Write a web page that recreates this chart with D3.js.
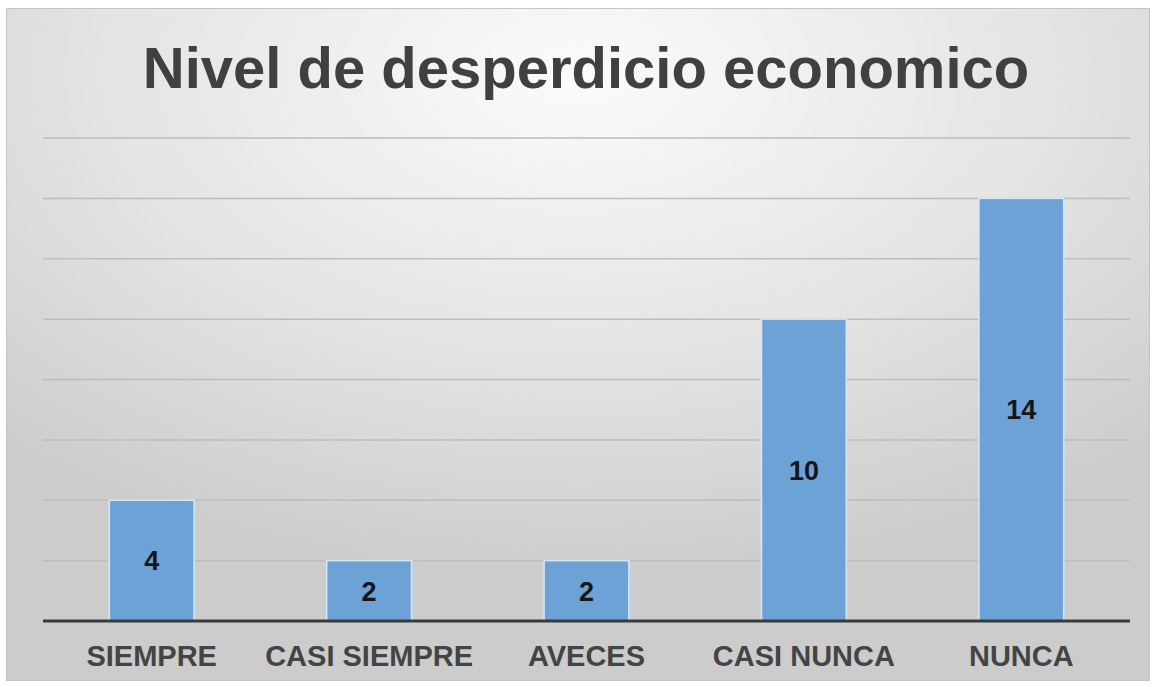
<!DOCTYPE html>
<meta charset="utf-8">
<html>
<head>
<script src="https://d3js.org/d3.v7.min.js" charset="utf-8"></script>
<style>
body { margin: 0; background: #fff; }
svg { display: block; font-family: "Liberation Sans", Arial, sans-serif; }
</style>
</head>
<body>
<svg width="1154" height="687"></svg>
<script type="text/javascript">
// chart data
var categories = ["SIEMPRE", "CASI SIEMPRE", "AVECES", "CASI NUNCA", "NUNCA"];
var values = [4, 2, 2, 10, 14];
var gridTicks = [0, 2, 4, 6, 8, 10, 12, 14, 16];
var title = "Nivel de desperdicio economico";

var svg = d3.select("svg");

// background with soft radial shading
var defs = svg.append("defs");
var grad = defs.append("radialGradient")
    .attr("id", "bg")
    .attr("cx", "50%").attr("cy", "10%").attr("r", "75%");
grad.append("stop").attr("offset", "0%").attr("stop-color", "#fbfbfb");
grad.append("stop").attr("offset", "55%").attr("stop-color", "#e4e4e4");
grad.append("stop").attr("offset", "100%").attr("stop-color", "#cccccc");

svg.append("rect")
    .attr("x", 6.5).attr("y", 8.5)
    .attr("width", 1143).attr("height", 672)
    .attr("fill", "url(#bg)")
    .attr("stroke", "#c4c4c4")
    .attr("stroke-width", 1);

var margin = {left: 43, right: 24, top: 138, bottom: 66},
    width = 1154 - margin.left - margin.right,
    height = 687 - margin.top - margin.bottom;

var g = svg.append("g").attr("transform", "translate(" + margin.left + "," + margin.top + ")");

var x = d3.scaleBand()
    .domain(categories)
    .range([0, width])
    .padding(0);

var y = d3.scaleLinear()
    .domain([0, 16])
    .range([483, 0]);

// gridlines
g.selectAll(".grid")
  .data(gridTicks.filter(function(d) { return d > 0; }))
  .enter().append("line")
    .attr("class", "grid")
    .attr("x1", 0).attr("x2", width)
    .attr("y1", function(d) { return y(d); })
    .attr("y2", function(d) { return y(d); })
    .attr("stroke", "#bdbdbd")
    .attr("stroke-width", 1.5);

var barW = x.bandwidth() * 0.39;

var bar = g.selectAll(".bar")
  .data(values)
  .enter().append("g")
    .attr("class", "bar");

bar.append("rect")
    .attr("x", function(d, i) { return x(categories[i]) + (x.bandwidth() - barW) / 2; })
    .attr("y", function(d) { return y(d); })
    .attr("width", barW)
    .attr("height", function(d) { return y(0) - y(d); })
    .attr("fill", "#6ca2d6")
    .attr("stroke", "#d6e8f8")
    .attr("stroke-width", 1.5);

bar.append("text")
    .attr("x", function(d, i) { return x(categories[i]) + x.bandwidth() / 2; })
    .attr("y", function(d) { return (y(d) + y(0)) / 2; })
    .attr("dy", "0.36em")
    .attr("text-anchor", "middle")
    .attr("font-size", "27px")
    .attr("font-weight", "bold")
    .attr("fill", "#161616")
    .text(function(d) { return d; });

// baseline
g.append("line")
    .attr("x1", 0).attr("x2", width)
    .attr("y1", y(0)).attr("y2", y(0))
    .attr("stroke", "#3a3a3a")
    .attr("stroke-width", 3);

// category labels
var xAxis = g.append("g")
    .attr("transform", "translate(0," + y(0) + ")")
    .call(d3.axisBottom(x).tickSize(0).tickPadding(24));
xAxis.select(".domain").remove();
xAxis.selectAll("text")
    .attr("font-family", "'Liberation Sans', Arial, sans-serif")
    .attr("font-size", "29px")
    .attr("font-weight", "bold")
    .attr("fill", "#444");

svg.append("text")
    .attr("x", 586)
    .attr("y", 88)
    .attr("text-anchor", "middle")
    .attr("font-size", "58px")
    .attr("font-weight", "bold")
    .attr("fill", "#404040")
    .text(title);
</script>
</body>
</html>
